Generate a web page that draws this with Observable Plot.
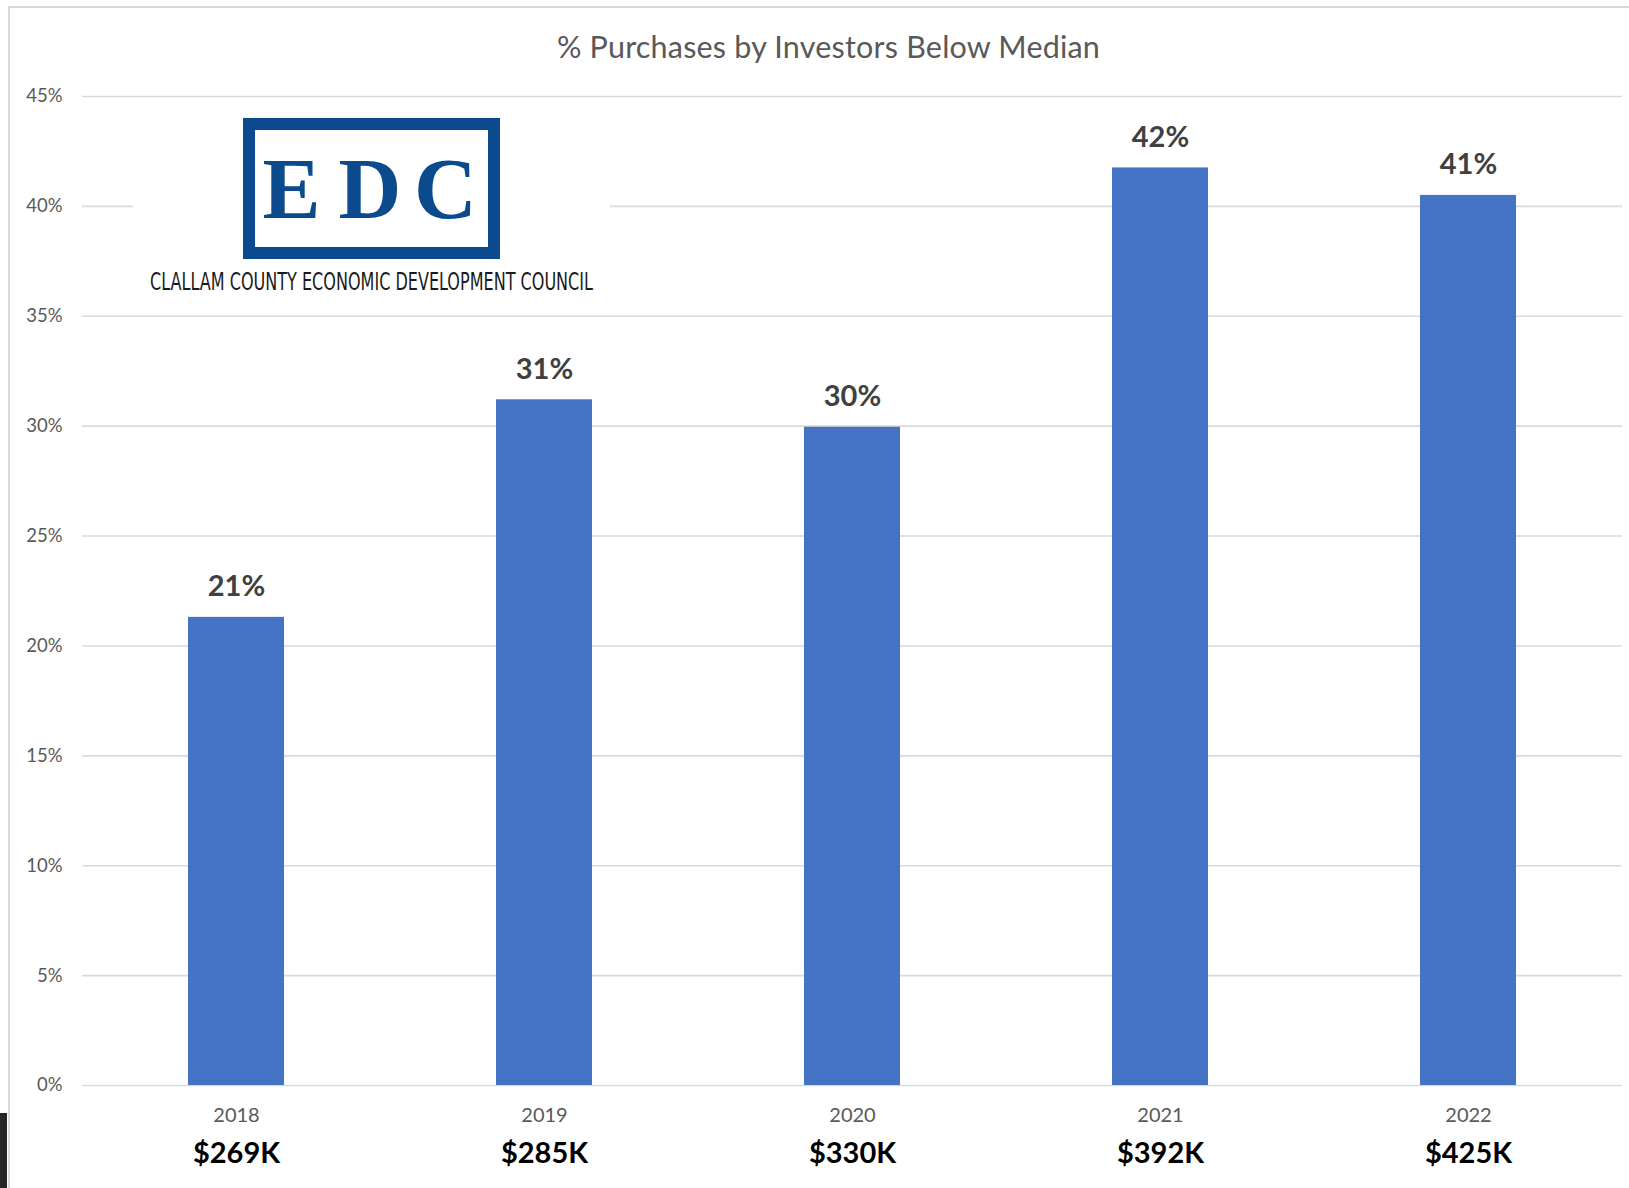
<!DOCTYPE html>
<html>
<head>
<meta charset="utf-8">
<script src="https://cdn.jsdelivr.net/npm/d3@7"></script>
<script src="https://cdn.jsdelivr.net/npm/@observablehq/plot@0.6"></script>
<style>
  html, body { margin: 0; padding: 0; background: #fff; }
  #wrap { position: relative; width: 1629px; height: 1188px; overflow: hidden; background: #fff; font-family: Lato, "Open Sans", sans-serif; }
  #title { box-sizing: border-box; height: 70px; padding-top: 31px; line-height: 30px; font-size: 30.5px; color: #595959; text-align: center; padding-left: 28px; white-space: nowrap; letter-spacing: 0.2px; }
  #frame { position: absolute; left: 8px; top: 6px; right: -10px; bottom: -10px; border-left: 2px solid #d9d9d9; border-top: 2px solid #d9d9d9; pointer-events: none; }
  #blackbar { position: absolute; left: 0; top: 1113px; width: 7px; height: 80px; background: #262626; }
  #logo { position: absolute; left: 133px; top: 105px; width: 700px; height: 200px; }
</style>
</head>
<body>
<div id="wrap">
  <div id="title">% Purchases by Investors Below Median</div>
  <div id="chart"></div>
  <div id="logo"></div>
  <div id="frame"></div>
  <div id="blackbar"></div>
</div>
<script>
const years = ["2018", "2019", "2020", "2021", "2022"];
const shares = [21.3, 31.2, 29.95, 41.75, 40.5];
const shareLabels = ["21%", "31%", "30%", "42%", "41%"];
const prices = ["$269K", "$285K", "$330K", "$392K", "$425K"];
const yTicks = [0, 5, 10, 15, 20, 25, 30, 35, 40, 45];

const rows = years.map((y, i) => ({year: y, share: shares[i], label: shareLabels[i], price: prices[i]}));

const chart = Plot.plot({
  width: 1629,
  height: 1118,
  marginLeft: 82,
  marginRight: 7,
  marginTop: 26,
  marginBottom: 103,
  style: {background: "transparent", fontFamily: "Lato, 'Open Sans', sans-serif"},
  x: {domain: years, paddingInner: 0.688, paddingOuter: 0.344, label: null},
  y: {domain: [0, 45], label: null},
  marks: [
    Plot.gridY(yTicks, {stroke: "#d9d9d9", strokeOpacity: 1, strokeWidth: 1.6}),
    Plot.axisY(yTicks, {tickSize: 0, tickPadding: 20, fontSize: 18.5, fill: "#595959", tickFormat: d => d + "%", label: null}),
    Plot.axisX({tickSize: 0, tickPadding: 22, fontSize: 20, fill: "#595959", label: null}),
    Plot.barY(rows, {x: "year", y: "share", fill: "#4472c4"}),
    Plot.text(rows, {x: "year", y: "share", text: "label", lineAnchor: "bottom", dy: -21, fontSize: 29, fontWeight: "bold", fill: "#404040"}),
    Plot.text(rows, {x: "year", y: d => 0, text: "price", lineAnchor: "top", dy: 57, fontSize: 29, fontWeight: "bold", fill: "#000"})
  ]
});
document.getElementById("chart").appendChild(chart);

// Logo (EDC) overlay
const logo = d3.select("#logo").append("svg")
  .attr("width", 700).attr("height", 200)
  .attr("viewBox", "133 105 700 200")
  .style("overflow", "visible");
const navy = "#0c4a8e";
logo.append("rect").attr("x", 133).attr("y", 105).attr("width", 477).attr("height", 195).attr("fill", "#fff");
logo.append("rect").attr("x", 249).attr("y", 124).attr("width", 245).attr("height", 129)
  .attr("fill", "none").attr("stroke", navy).attr("stroke-width", 12);
[["E", 291.5], ["D", 370], ["C", 445.5]].forEach(([ch, cx]) => {
  logo.append("text").attr("x", cx).attr("y", 218).attr("text-anchor", "middle")
    .attr("font-family", "'Liberation Serif', 'DejaVu Serif', serif").attr("font-size", 87)
    .attr("font-weight", "bold")
    .attr("fill", navy).text(ch);
});
logo.append("text").attr("x", 150).attr("y", 290)
  .attr("font-family", "'DejaVu Sans Condensed', 'Liberation Sans Narrow', sans-serif")
  .attr("font-size", 24).attr("fill", "#1a1a1a")
  .attr("textLength", 443).attr("lengthAdjust", "spacingAndGlyphs")
  .text("CLALLAM COUNTY ECONOMIC DEVELOPMENT COUNCIL");
</script>
</body>
</html>
